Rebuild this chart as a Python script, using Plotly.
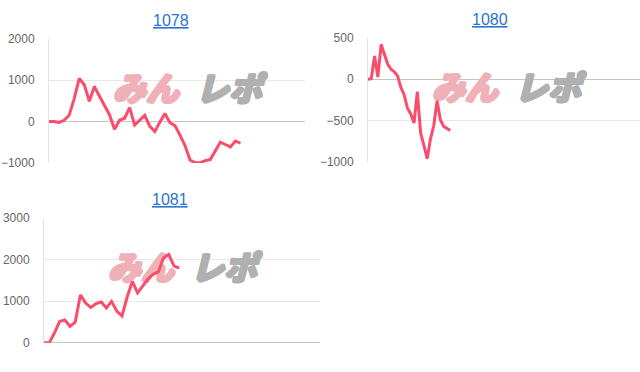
import plotly.graph_objects as go

W, H = 640, 372

titles = ["1078", "1080", "1081"]

vals_1078 = [0, 0, -20, 30, 150, 555, 1040, 890, 490, 845, 615, 385, 165, -185, 30, 80,
             335, -85, 45, 150, -115, -240, -15, 195, -30, -100, -330, -585, -935, -995,
             -995, -945, -920, -720, -500, -555, -615, -470, -525]
vals_1080 = [0, 5, 280, 25, 420, 300, 180, 120, 90, 40, -100, -190, -350, -420, -530, -150,
             -650, -800, -960, -720, -560, -260, -490, -570, -600, -620]
vals_1081 = [0, 0, 235, 510, 550, 395, 495, 1150, 955, 850, 940, 980, 840, 995, 760, 645,
             1100, 1475, 1200, 1375, 1530, 1645, 1700, 2040, 2120, 1845, 1790]

series = [vals_1078, vals_1080, vals_1081]
y_ranges = [[-1000, 2000], [-1000, 500], [0, 3000]]
y_ticks = [[-1000, 0, 1000, 2000], [-1000, -500, 0, 500], [0, 1000, 2000, 3000]]
x_ranges = [[0, 50.8], [0, 82.7], [0, 53.1]]

# plot-area boxes in pixels: left, right, top, bottom
boxes = [(49, 305, 33, 162), (368, 640, 32, 161), (44, 320, 219, 349)]
title_x = [171, 490, 170]

LINE = "#fa4d6b"
PINK = "#efb0b7"
GREY = "#b0b0b0"


def thick(c):
    offs = [(1, 0), (-1, 0), (0, 1), (0, -1), (1, 1), (-1, -1), (1, -1), (-1, 1)]
    return ", ".join(f"{dx}px {dy}px 0 {c}" for dx, dy in offs)


fig = go.Figure()

for i, (vals, box) in enumerate(zip(series, boxes)):
    n = i + 1
    xa = "x" if n == 1 else f"x{n}"
    ya = "y" if n == 1 else f"y{n}"
    l, r, t, b = box
    x0, x1 = x_ranges[i]
    y0, y1 = y_ranges[i]

    def px2data(px, py):
        return (x0 + (px - l) / (r - l) * (x1 - x0), y1 - (py - t) / (b - t) * (y1 - y0))

    # watermark (drawn beneath the line)
    wy = t + 56
    for txt, dxp, col in (("みん", 97, PINK), ("レポ", 180, GREY)):
        wx, wyd = px2data(l + dxp, wy)
        fig.add_trace(go.Scatter(
            x=[wx], y=[wyd], mode="text", text=[txt], textposition="middle center",
            textfont=dict(family="Noto Sans CJK JP", size=33, color=col, weight=900,
                          style="italic", shadow=thick(col)),
            xaxis=xa, yaxis=ya, showlegend=False, hoverinfo="skip", cliponaxis=False))

    fig.add_trace(go.Scatter(x=list(range(len(vals))), y=vals, mode="lines",
                             line=dict(color=LINE, width=3), xaxis=xa, yaxis=ya,
                             showlegend=False, hoverinfo="skip"))
    xdom = [l / W, r / W]
    ydom = [1 - b / H, 1 - t / H]
    fig.layout[f"xaxis{'' if n == 1 else n}"] = dict(
        domain=xdom, range=x_ranges[i], showgrid=False, showticklabels=False,
        zeroline=False, showline=False, ticks="", anchor=ya, fixedrange=True)
    fig.layout[f"yaxis{'' if n == 1 else n}"] = dict(
        domain=ydom, range=y_ranges[i], tickvals=y_ticks[i], showgrid=True,
        gridcolor="#e8e8e8", gridwidth=1, zeroline=True, zerolinecolor="#c4c4c4",
        zerolinewidth=1, showline=True, linecolor="#e4e4e4", linewidth=1,
        ticks="outside", ticklen=11, tickcolor="rgba(0,0,0,0)",
        tickfont=dict(family="Liberation Sans, Arial", size=12, color="#666666"),
        anchor=xa, fixedrange=True)
    fig.add_annotation(x=title_x[i] / W, y=1 - (t - 19) / H, xref="paper", yref="paper",
                       text=f"<u>{titles[i]}</u>", showarrow=False,
                       font=dict(family="Liberation Sans, Arial", size=16, color="#2a73d0"),
                       xanchor="center", yanchor="middle")

fig.update_layout(width=W, height=H, margin=dict(l=0, r=0, t=0, b=0),
                  paper_bgcolor="white", plot_bgcolor="white")
fig.write_html("out.html")
